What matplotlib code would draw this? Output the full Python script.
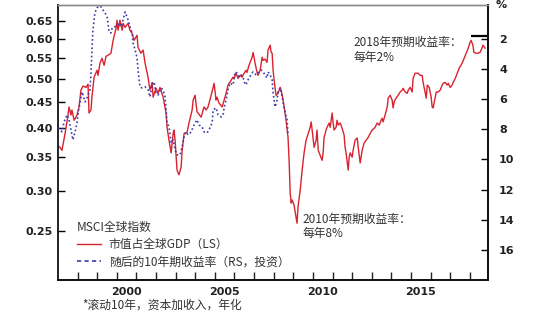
import matplotlib
matplotlib.use("Agg")
import matplotlib.pyplot as plt
from matplotlib.ticker import FixedLocator, NullLocator, FormatStrFormatter

plt.rcParams['font.family'] = ['Noto Sans CJK SC', 'DejaVu Sans']

# MSCI world market cap / world GDP (left axis, log scale)
red_years = [
    1997.00, 1997.10, 1997.20, 1997.36, 1997.51, 1997.56, 1997.66, 1997.71, 1997.82, 1997.97,
    1998.07, 1998.17, 1998.28, 1998.43, 1998.53, 1998.58, 1998.68, 1998.73, 1998.84, 1998.99,
    1999.04, 1999.14, 1999.24, 1999.35, 1999.45, 1999.55, 1999.70, 1999.81, 1999.96, 2000.01,
    2000.06, 2000.16, 2000.27, 2000.32, 2000.42, 2000.57, 2000.67, 2000.78, 2000.88, 2001.03,
    2001.08, 2001.23, 2001.34, 2001.44, 2001.59, 2001.69, 2001.80, 2001.85, 2002.00, 2002.10,
    2002.20, 2002.36, 2002.51, 2002.56, 2002.66, 2002.77, 2002.87, 2002.92, 2002.97, 2003.07,
    2003.12, 2003.17, 2003.28, 2003.33, 2003.43, 2003.58, 2003.68, 2003.84, 2003.89, 2003.99,
    2004.09, 2004.14, 2004.30, 2004.40, 2004.45, 2004.55, 2004.65, 2004.81, 2004.91, 2004.96,
    2005.06, 2005.11, 2005.21, 2005.37, 2005.47, 2005.57, 2005.67, 2005.83, 2005.93, 2005.98,
    2006.08, 2006.18, 2006.29, 2006.39, 2006.49, 2006.59, 2006.64, 2006.74, 2006.90, 2006.95,
    2007.05, 2007.15, 2007.20, 2007.31, 2007.41, 2007.46, 2007.56, 2007.66, 2007.71, 2007.82,
    2007.87, 2007.92, 2007.97, 2008.02, 2008.12, 2008.22, 2008.33, 2008.38, 2008.48, 2008.63,
    2008.73, 2008.79, 2008.84, 2008.89, 2008.94, 2009.04, 2009.14, 2009.19, 2009.24, 2009.35,
    2009.45, 2009.55, 2009.65, 2009.76, 2009.86, 2009.91, 2009.96, 2010.06, 2010.16, 2010.21,
    2010.27, 2010.37, 2010.47, 2010.52, 2010.57, 2010.67, 2010.72, 2010.83, 2010.88, 2010.98,
    2011.03, 2011.08, 2011.18, 2011.23, 2011.29, 2011.39, 2011.49, 2011.59, 2011.64, 2011.69,
    2011.80, 2011.85, 2011.90, 2012.00, 2012.05, 2012.15, 2012.26, 2012.31, 2012.41, 2012.51,
    2012.61, 2012.71, 2012.82, 2012.92, 2013.02, 2013.12, 2013.17, 2013.28, 2013.38, 2013.48,
    2013.53, 2013.58, 2013.68, 2013.79, 2013.84, 2013.94, 2014.04, 2014.09, 2014.14, 2014.24,
    2014.35, 2014.45, 2014.55, 2014.60, 2014.70, 2014.81, 2014.86, 2014.96, 2015.06, 2015.11,
    2015.21, 2015.32, 2015.37, 2015.47, 2015.57, 2015.62, 2015.72, 2015.78, 2015.83, 2015.93,
    2016.03, 2016.08, 2016.13, 2016.23, 2016.29, 2016.39, 2016.49, 2016.59, 2016.64, 2016.74,
    2016.85, 2016.90, 2017.00, 2017.10, 2017.15, 2017.26, 2017.36, 2017.46, 2017.61, 2017.71,
    2017.82, 2017.92, 2018.02, 2018.07, 2018.16, 2018.21, 2018.32, 2018.42, 2018.52, 2018.62,
    2018.67, 2018.78,
]
red_vals = [
    0.368, 0.366, 0.361, 0.390, 0.424, 0.440, 0.424, 0.434, 0.414, 0.424,
    0.440, 0.475, 0.484, 0.481, 0.488, 0.428, 0.434, 0.460, 0.504, 0.520,
    0.508, 0.537, 0.549, 0.532, 0.554, 0.557, 0.562, 0.596, 0.630, 0.653,
    0.624, 0.653, 0.624, 0.644, 0.632, 0.644, 0.624, 0.615, 0.596, 0.610,
    0.577, 0.562, 0.570, 0.537, 0.504, 0.475, 0.492, 0.460, 0.479, 0.468,
    0.481, 0.460, 0.428, 0.401, 0.378, 0.357, 0.390, 0.396, 0.378, 0.330,
    0.326, 0.323, 0.335, 0.361, 0.390, 0.392, 0.409, 0.434, 0.454, 0.464,
    0.430, 0.428, 0.420, 0.434, 0.440, 0.434, 0.440, 0.464, 0.481, 0.490,
    0.454, 0.460, 0.448, 0.440, 0.454, 0.468, 0.486, 0.497, 0.504, 0.501,
    0.513, 0.501, 0.508, 0.504, 0.513, 0.520, 0.515, 0.532, 0.552, 0.564,
    0.537, 0.515, 0.508, 0.520, 0.552, 0.544, 0.547, 0.539, 0.570, 0.583,
    0.564, 0.562, 0.520, 0.497, 0.464, 0.468, 0.481, 0.475, 0.454, 0.414,
    0.383, 0.341, 0.297, 0.284, 0.288, 0.281, 0.266, 0.259, 0.279, 0.301,
    0.330, 0.357, 0.378, 0.390, 0.401, 0.411, 0.396, 0.366, 0.378, 0.396,
    0.361, 0.353, 0.345, 0.357, 0.383, 0.396, 0.401, 0.409, 0.401, 0.428,
    0.409, 0.396, 0.401, 0.414, 0.405, 0.409, 0.399, 0.387, 0.366, 0.357,
    0.330, 0.350, 0.357, 0.350, 0.361, 0.378, 0.382, 0.366, 0.341, 0.361,
    0.373, 0.378, 0.383, 0.390, 0.396, 0.399, 0.401, 0.409, 0.405, 0.414,
    0.418, 0.411, 0.424, 0.440, 0.458, 0.464, 0.454, 0.438, 0.450, 0.458,
    0.464, 0.471, 0.475, 0.479, 0.471, 0.468, 0.475, 0.481, 0.471, 0.501,
    0.513, 0.513, 0.513, 0.508, 0.508, 0.492, 0.471, 0.458, 0.486, 0.481,
    0.460, 0.440, 0.438, 0.458, 0.471, 0.471, 0.475, 0.486, 0.490, 0.492,
    0.486, 0.490, 0.481, 0.486, 0.492, 0.501, 0.513, 0.525, 0.537, 0.549,
    0.562, 0.575, 0.591, 0.596, 0.583, 0.564, 0.562, 0.562, 0.564, 0.575,
    0.583, 0.575,
]

# subsequent 10-year return, % (right axis, inverted)
blue_years = [
    1997.00, 1997.10, 1997.20, 1997.31, 1997.46, 1997.56, 1997.66, 1997.76, 1997.87, 1997.97,
    1998.02, 1998.12, 1998.22, 1998.28, 1998.38, 1998.48, 1998.53, 1998.63, 1998.68, 1998.73,
    1998.78, 1998.88, 1998.99, 1999.04, 1999.14, 1999.24, 1999.29, 1999.40, 1999.50, 1999.55,
    1999.60, 1999.70, 1999.76, 1999.86, 2000.01, 2000.11, 2000.21, 2000.32, 2000.42, 2000.52,
    2000.57, 2000.67, 2000.78, 2000.83, 2000.93, 2001.03, 2001.08, 2001.18, 2001.28, 2001.44,
    2001.59, 2001.69, 2001.80, 2001.90, 2002.00, 2002.10, 2002.26, 2002.36, 2002.46, 2002.51,
    2002.56, 2002.66, 2002.77, 2002.87, 2002.97, 2003.07, 2003.22, 2003.33, 2003.43, 2003.53,
    2003.63, 2003.79, 2003.89, 2003.99, 2004.09, 2004.19, 2004.35, 2004.45, 2004.60, 2004.70,
    2004.86, 2004.91, 2005.06, 2005.16, 2005.32, 2005.42, 2005.47, 2005.57, 2005.67, 2005.78,
    2005.93, 2006.03, 2006.13, 2006.24, 2006.34, 2006.44, 2006.49, 2006.59, 2006.64, 2006.74,
    2006.90, 2006.95, 2007.10, 2007.20, 2007.36, 2007.46, 2007.56, 2007.66, 2007.71, 2007.82,
    2007.92, 2007.97, 2008.07, 2008.17, 2008.22, 2008.33, 2008.43, 2008.48, 2008.58, 2008.68,
    2008.73,
]
blue_vals = [
    7.91, 7.97, 8.17, 7.50, 7.04, 7.37, 8.04, 8.70, 8.17, 7.57,
    6.91, 6.25, 5.52, 5.72, 6.18, 5.91, 5.72, 5.38, 4.26, 2.73,
    1.40, 0.27, -0.06, -0.12, -0.19, -0.06, 0.08, 0.27, 0.54, 0.94,
    1.54, 1.60, 1.27, 1.20, 1.14, 0.94, 1.20, 0.74, 0.21, 0.54,
    0.74, 1.20, 1.60, 2.27, 2.73, 3.26, 4.06, 5.18, 5.25, 5.18,
    5.38, 5.85, 5.05, 4.85, 5.58, 5.72, 5.25, 5.40, 5.85, 6.71,
    7.57, 7.84, 8.90, 8.70, 9.37, 9.70, 9.70, 9.17, 8.50, 8.17,
    8.37, 8.17, 7.84, 7.57, 7.37, 7.71, 7.84, 8.17, 8.24, 8.04,
    7.57, 6.71, 6.58, 7.04, 7.18, 7.04, 6.58, 6.05, 5.38, 4.92,
    5.05, 4.19, 4.26, 4.52, 4.39, 4.52, 4.85, 5.05, 4.85, 4.59,
    4.26, 4.19, 4.39, 4.26, 4.06, 4.19, 4.40, 4.59, 4.19, 4.39,
    4.72, 5.58, 6.51, 6.05, 5.52, 5.25, 5.85, 6.25, 6.84, 7.37,
    8.37,
]

left_ticks = [0.25, 0.30, 0.35, 0.40, 0.45, 0.50, 0.55, 0.60, 0.65]
right_ticks = [2, 4, 6, 8, 10, 12, 14, 16]
year_ticks = list(range(1998, 2019))
year_labels = [2000, 2005, 2010, 2015]

red_label = '市值占全球GDP（LS）'
blue_label = '随后的10年期收益率（RS，投资）'
legend_title = 'MSCI全球指数'
note_2018 = '2018年预期收益率：\n每年2%'
note_2010 = '2010年预期收益率：\n每年8%'
footnote = '*滚动10年，资本加收入，年化'
level_2018 = 1.8

RED = '#d8232f'
BLUE = '#3b3bab'
TXT = '#333333'
tick_font = dict(family='DejaVu Sans', weight='bold', size=8)

fig = plt.figure(figsize=(5.5, 3.3), dpi=100)
ax = fig.add_axes([0.1055, 0.1515, 0.7818, 0.8333])
ax2 = ax.twinx()

line_red, = ax.plot(red_years, red_vals, color=RED, lw=1.0, label=red_label)
line_blue, = ax2.plot(blue_years, blue_vals, color=BLUE, lw=1.2,
                      linestyle=(0, (1, 1.5)), label=blue_label)

ax.set_xlim(1997.0, 2018.93)
ax.set_yscale('log')
ax.set_ylim(0.20, 0.70)
ax.yaxis.set_major_locator(FixedLocator(left_ticks))
ax.yaxis.set_minor_locator(NullLocator())
ax.yaxis.set_major_formatter(FormatStrFormatter('%.2f'))

ax2.set_ylim(18.0, -0.25)
ax2.set_yticks(right_ticks)

ax.set_xticks(year_ticks)
ax.set_xticklabels([''] * len(year_ticks))
ax.set_xticks([y + 0.5 for y in year_labels], minor=True)
ax.set_xticklabels([str(y) for y in year_labels], minor=True)

ax.tick_params(axis='x', which='major', direction='in', length=6, width=1, color='#222')
ax.tick_params(axis='x', which='minor', length=0, pad=5, labelcolor='#222')
ax.tick_params(axis='y', direction='in', length=5, width=1, pad=4, labelcolor='#222')
ax2.tick_params(axis='y', direction='in', length=5, width=1, pad=8, labelcolor='#222')
for lab in ax.get_xticklabels(minor=True) + ax.get_yticklabels() + ax2.get_yticklabels():
    lab.set(**tick_font)

for a in (ax, ax2):
    a.spines['top'].set_color('#8a8a8a')
    a.spines['top'].set_linewidth(1.0)
    for s in ('left', 'right', 'bottom'):
        a.spines[s].set_color('#111')
        a.spines[s].set_linewidth(1.3)
ax2.spines['left'].set_visible(False)

ax2.text(1.017, 1.0, '%', transform=ax2.transAxes, ha='left', va='center',
         color='#222', **tick_font)

ax2.hlines(level_2018, 2018.05, 2018.88, color='black', lw=1.6)
ax2.text(2012.05, 2.73, note_2018, fontsize=8.5, color=TXT, ha='left', va='center',
         linespacing=1.15)
ax2.text(2009.45, 14.45, note_2010, fontsize=8.5, color=TXT, ha='left', va='center',
         linespacing=1.15)

leg = ax.legend(handles=[line_red, line_blue], title=legend_title, loc='upper left',
                bbox_to_anchor=(0.044, 0.215), frameon=False, fontsize=8.5,
                title_fontsize=8.5, handlelength=2.0, handletextpad=0.7,
                labelspacing=0.35, borderpad=0, borderaxespad=0)
leg._legend_box.align = 'left'
leg.get_title().set_color(TXT)
for t in leg.get_texts():
    t.set_color(TXT)
leg.legend_handles[1].set_linestyle((0, (2.5, 2)))

fig.text(0.149, 0.075, footnote, fontsize=8.5, color=TXT, ha='left', va='center')

fig.savefig('out.png', dpi=100, facecolor='white')
